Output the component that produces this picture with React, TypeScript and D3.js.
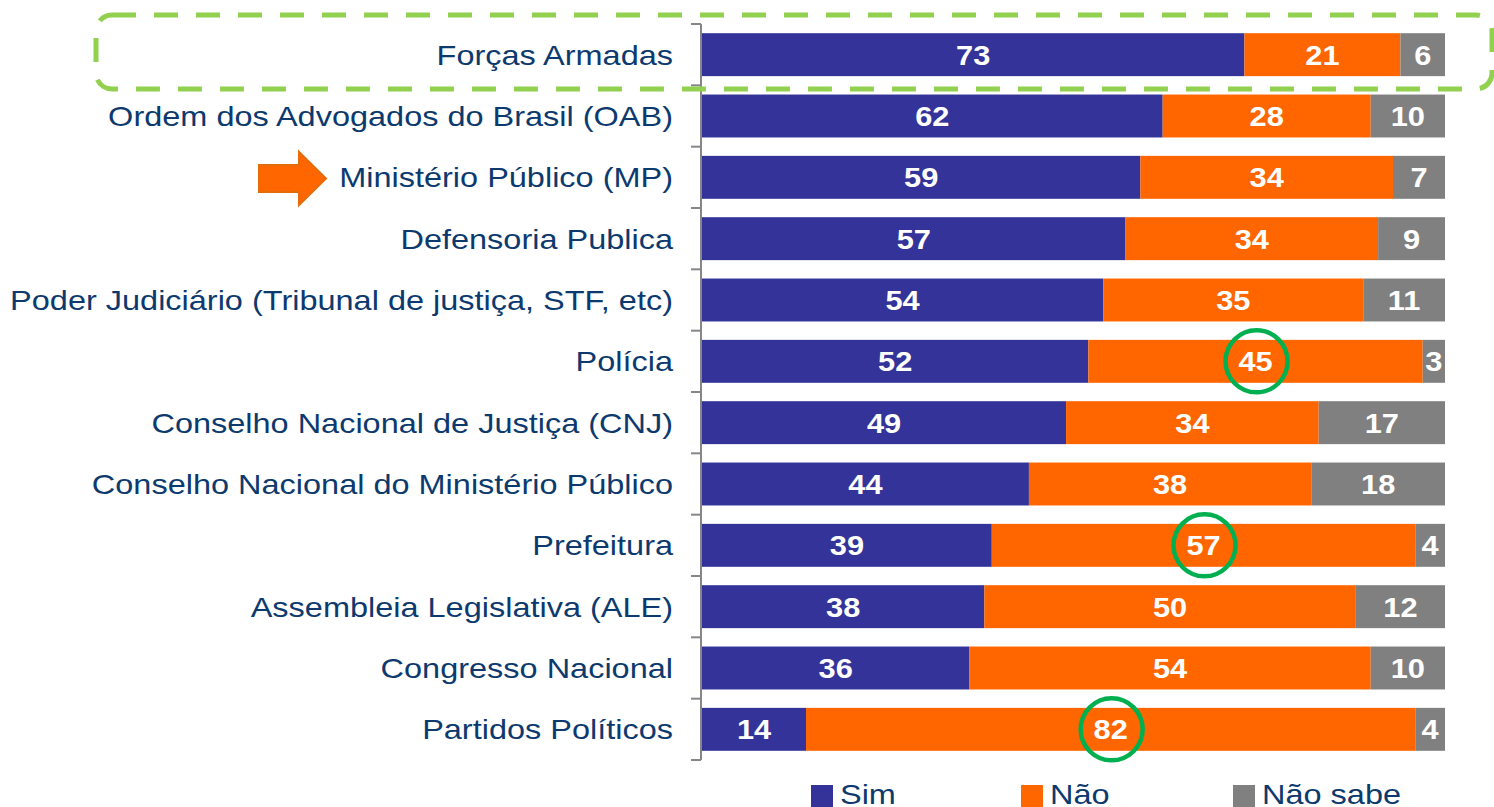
import * as d3 from 'd3'

const W = 1494
const H = 807

const categories = [
  'Forças Armadas',
  'Ordem dos Advogados do Brasil (OAB)',
  'Ministério Público (MP)',
  'Defensoria Publica',
  'Poder Judiciário (Tribunal de justiça, STF, etc)',
  'Polícia',
  'Conselho Nacional de Justiça (CNJ)',
  'Conselho Nacional do Ministério Público',
  'Prefeitura',
  'Assembleia Legislativa (ALE)',
  'Congresso Nacional',
  'Partidos Políticos',
]
const sim = [73, 62, 59, 57, 54, 52, 49, 44, 39, 38, 36, 14]
const nao = [21, 28, 34, 34, 35, 45, 34, 38, 57, 50, 54, 82]
const naoSabe = [6, 10, 7, 9, 11, 3, 17, 18, 4, 12, 10, 4]

const seriesNames = ['Sim', 'Não', 'Não sabe']
const seriesColors = ['#333399', '#FF6600', '#808080']

// highlighted "Não" values (green circles)
const circled = ['Polícia', 'Prefeitura', 'Partidos Políticos']

const FONT = 'Arial, "Liberation Sans", sans-serif'
const TEXT = '#0D3A6E'
const SX = 1.16 // the source text is slightly stretched horizontally

const x = d3.scaleLinear().domain([0, 100]).range([702, 1445])
const y = d3.scaleBand<string>().domain(categories).range([24, 760]).paddingInner(0.3).paddingOuter(0.15)

type Row = { cat: string; Sim: number; 'Não': number; 'Não sabe': number }
const rows: Row[] = categories.map((c, i) => ({ cat: c, Sim: sim[i], 'Não': nao[i], 'Não sabe': naoSabe[i] }))
const stacked = d3.stack<Row>().keys(seriesNames)(rows)

export default function App() {
  const step = y.step()
  const bounds = d3.range(categories.length + 1).map((i) => 24 + i * step)
  const legendX = [811, 1021, 1233]

  return (
    <div style={{ position: 'absolute', left: 0, top: 0 }}>
      <svg width={W} height={H} style={{ display: 'block', background: '#fff' }} fontFamily={FONT}>
        {/* axis */}
        <line x1={701} x2={701} y1={24} y2={760} stroke="#868686" strokeWidth={2} />
        {bounds.map((b, i) => (
          <line key={i} x1={691} x2={701} y1={b} y2={b} stroke="#868686" strokeWidth={2} />
        ))}

        {/* bars */}
        {stacked.map((s, si) => (
          <g key={s.key}>
            {s.map((d, i) => {
              const cat = categories[i]
              const x0 = x(d[0])
              const x1 = x(d[1])
              const yy = y(cat)!
              const v = d[1] - d[0]
              return (
                <g key={cat}>
                  <rect x={x0} y={yy} width={x1 - x0} height={y.bandwidth()} fill={seriesColors[si]} />
                  <text
                    transform={`translate(${(x0 + x1) / 2},${yy + y.bandwidth() / 2 + 10}) scale(1.1,1)`}
                    textAnchor="middle"
                    fill="#fff"
                    fontWeight="bold"
                    fontSize={28}
                  >
                    {v}
                  </text>
                </g>
              )
            })}
          </g>
        ))}

        {/* category labels */}
        {categories.map((c) => (
          <text
            key={c}
            transform={`translate(673,${y(c)! + y.bandwidth() / 2 + 10}) scale(${SX},1)`}
            textAnchor="end"
            fill={TEXT}
            fontSize={28}
          >
            {c}
          </text>
        ))}

        {/* green circles */}
        {circled.map((c) => {
          const i = categories.indexOf(c)
          const cx = (x(sim[i]) + x(sim[i] + nao[i])) / 2
          return (
            <circle key={c} cx={cx + 1} cy={y(c)! + y.bandwidth() / 2} r={31} fill="none" stroke="#00B050" strokeWidth={4.5} />
          )
        })}

        {/* dashed highlight */}
        <rect x={96} y={15} width={1396} height={74} rx={16} fill="none" stroke="#92D050" strokeWidth={5} strokeDasharray="24 18" />

        {/* arrow */}
        <polygon
          points="259,165 299,165 299,152 326,178.5 299,205 299,192 259,192"
          fill="#FF6600"
          stroke="#E46C0A"
          strokeWidth={2}
        />

        {/* legend */}
        {seriesNames.map((n, i) => (
          <g key={n}>
            <rect x={legendX[i]} y={785} width={22} height={22} fill={seriesColors[i]} />
            <text transform={`translate(${legendX[i] + 29},804) scale(${SX},1)`} fill={TEXT} fontSize={28}>
              {n}
            </text>
          </g>
        ))}
      </svg>
    </div>
  )
}
